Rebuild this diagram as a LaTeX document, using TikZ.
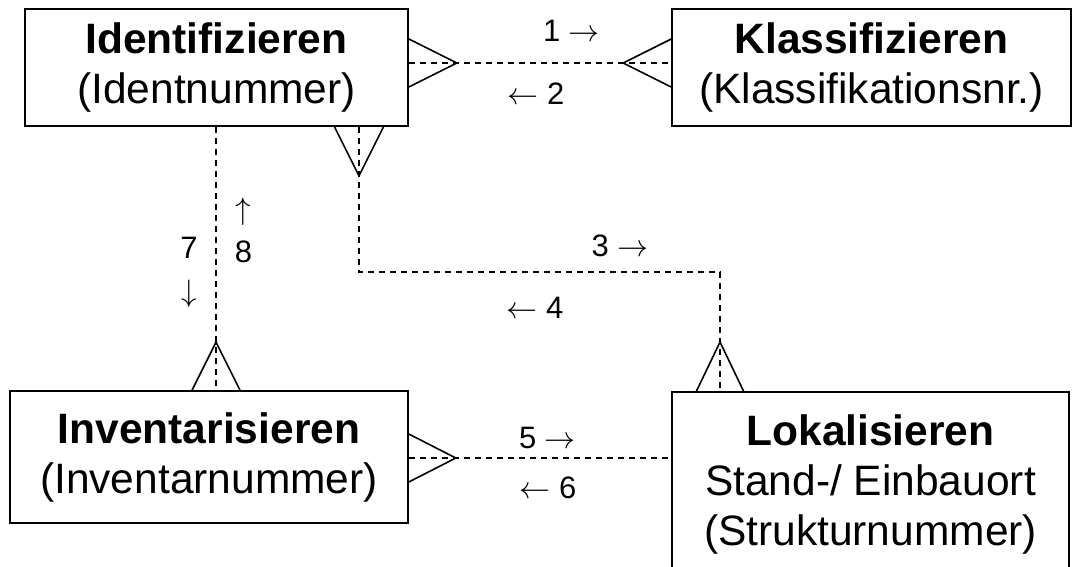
\RequirePackage{fix-cm}
\documentclass[tikz,border=0pt]{standalone}
\usepackage{fontspec}
\setmainfont{Liberation Sans}
\tikzset{
  boxtext/.style={align=center, inner sep=0pt, font=\fontsize{42.5}{50}\selectfont},
  entity/.style={boxtext, draw, line width=1.6pt},
  conn/.style={line width=1.6pt, dash pattern=on 6pt off 5pt},
  foot/.style={line width=1.6pt, line join=miter},
  lbl/.style={font=\fontsize{31}{43}\selectfont, inner sep=0pt, align=center},
}
\begin{document}
\begin{tikzpicture}[x=1pt, y=-1pt]
\useasboundingbox (0,0) rectangle (1075,566);
\clip (0,0) rectangle (1075,566);

% entities
\node[entity, minimum width=383pt, minimum height=117pt] (idf) at (216.5,67.5)
  {\textbf{Identifizieren}\\(Identnummer)};
\node[entity, minimum width=399pt, minimum height=117pt] (kla) at (871.5,67.5)
  {\textbf{Klassifizieren}\\(Klassifikationsnr.)};
\node[entity, minimum width=398pt, minimum height=132pt] (inv) at (209,457)
  {\textbf{Inventarisieren}\\(Inventarnummer)};
\node[entity, anchor=north, minimum width=397pt, minimum height=230pt] (lok) at (870.5,391) {};
\node[boxtext] (loktxt) at (870.5,484)
  {\textbf{Lokalisieren}\\Stand-/ Einbauort\\(Strukturnummer)};

% connector 1/2: Identifizieren -- Klassifizieren
\coordinate (a1) at ([yshift=4.5pt]idf.east);
\coordinate (a2) at (a1 -| kla.west);
\draw[conn] (a1) -- (a2);
\draw[foot] (a1) ++(0,-24) -- ++(48,24) -- ++(-48,24);
\draw[foot] (a2) ++(0,-24) -- ++(-48,24) -- ++(48,24);

% connector 3/4: Identifizieren -- Lokalisieren
\coordinate (b1) at ([xshift=142.5pt]idf.south);
\coordinate (b3) at ([xshift=-150.5pt]lok.north);
\draw[conn] (b1) -- ++(0,145) -| (b3);
\draw[foot] (b1) ++(-24.5,0) -- ++(24.5,49) -- ++(24.5,-49);
\draw[foot] (b3) ++(-23.5,0) -- ++(23.5,-49) -- ++(23.5,49);

% connector 7/8: Identifizieren -- Inventarisieren
\coordinate (c1) at ([xshift=-0.5pt]idf.south);
\coordinate (c2) at (c1 |- inv.north);
\draw[conn] (c1) -- (c2);
\draw[foot] (c2) ++(-24,0) -- ++(24,-48) -- ++(24,48);

% connector 5/6: Inventarisieren -- Lokalisieren
\coordinate (d1) at ([yshift=-1pt]inv.east);
\coordinate (d2) at (d1 -| lok.west);
\draw[conn] (d1) -- (d2);
\draw[foot] (d1) ++(0,-24) -- ++(47,24) -- ++(-47,24);

% labels
\node[lbl] (l1) at (571.5,31) {1 $\rightarrow$};
\node[lbl] (l2) at (536,94) {$\leftarrow$ 2};
\node[lbl] (l3) at (620,246) {3 $\rightarrow$};
\node[lbl] (l4) at (535,308) {$\leftarrow$ 4};
\node[lbl] (l5) at (547.5,438) {5 $\rightarrow$};
\node[lbl] (l6) at (548,488) {$\leftarrow$ 6};
\node[lbl] (l7) at (189,272) {7\\$\downarrow$};
\node[lbl] (l8) at (243.5,230) {$\uparrow$\\8};
\end{tikzpicture}
\end{document}
